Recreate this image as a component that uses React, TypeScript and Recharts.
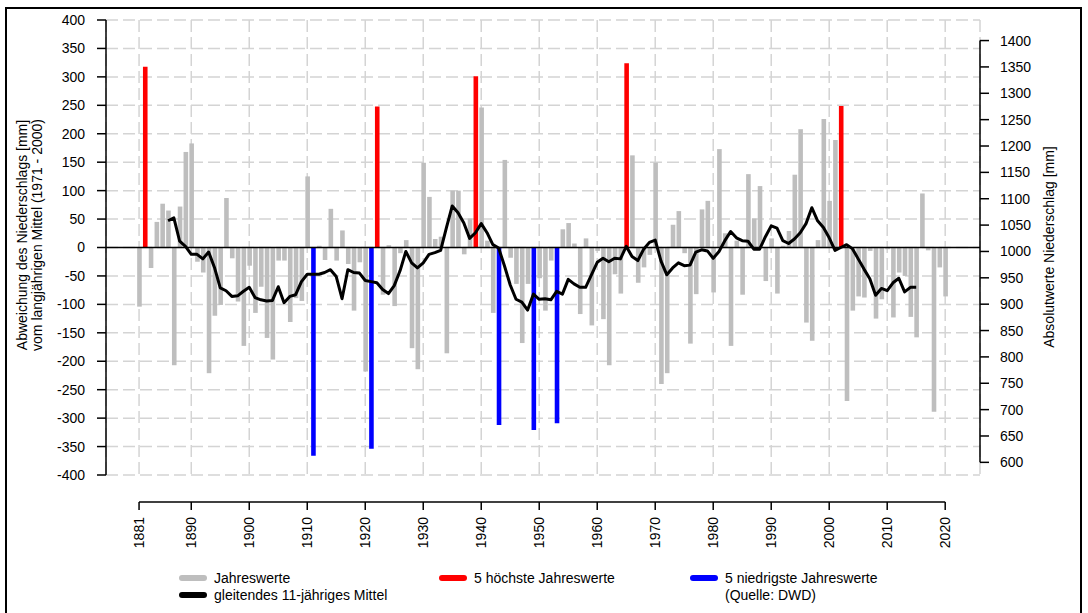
import React from 'react';
import {
  ComposedChart,
  Bar,
  Line,
  Cell,
  XAxis,
  YAxis,
  CartesianGrid,
  ReferenceLine,
  Legend,
} from 'recharts';

const FONT = '"Liberation Sans", Arial, Helvetica, sans-serif';
const GRAY = '#bebebe';
const RED = '#ff0000';
const BLUE = '#0000ff';

const startYear = 1881;

// Abweichung vom Mittel 1971-2000 [mm], 1881 ... 2020
const annualValues: number[] = [
  -104, 318, -36, 45, 77, 65, -207, 72, 168, 183,
  -25, -44, -221, -120, -101, 87, -19, -95, -173, -32,
  -115, -69, -159, -197, -23, -23, -131, -89, -94, 125,
  -366, 3, -22, 68, -23, 30, -29, -111, -26, -218,
  -354, 248, -83, 4, -103, -10, 13, -177, -214, 149,
  89, 15, 19, -186, 100, 100, -12, 51, 301, 246,
  12, -115, -312, 154, -18, -64, -168, -64, -321, -54,
  -111, -23, -309, 32, 43, 7, -117, 16, -137, -6,
  -126, -207, -47, -81, 324, 162, -62, -35, -13, 149,
  -240, -221, 40, 64, -10, -169, -82, 67, 82, -79,
  173, 25, -173, 12, -83, 129, 51, 108, -59, 16,
  -81, 3, 29, 128, 208, -132, -164, 13, 226, 82,
  189, 249, -270, -111, -86, -88, -6, -125, -91, -3,
  -123, -44, -50, -122, -158, 95, -5, -289, -35, -86,
];

// gleitendes 11-jähriges Mittel, 1881 ... 2020 (null where not defined)
const movingMean: (number | null)[] = [
  null, null, null, null, null,
  47, 52, 11, 2, -12, -12, -20, -8, -35, -71,
  -76, -86, -85, -77, -70, -88, -92, -94, -93, -69,
  -97, -86, -83, -60, -47, -47, -47, -44, -39, -51,
  -90, -39, -44, -45, -58, -60, -62, -74, -81, -67,
  -41, -7, -27, -36, -27, -12, -9, -5, 35, 73,
  61, 43, 16, 26, 42, 26, 5, -1, -32, -66,
  -91, -96, -110, -82, -91, -90, -92, -77, -82, -56,
  -64, -70, -70, -48, -26, -19, -25, -19, -20, 2,
  -16, -23, -3, 9, 13, -24, -48, -36, -27, -32,
  -31, -8, -4, -6, -19, -7, 12, 28, 17, 12,
  11, -3, -3, 19, 38, 34, 12, 7, 15, 26,
  42, 70, 47, 35, 17, -5, 0, 5, -2, -20,
  -38, -55, -84, -72, -76, -62, -54, -78, -70, -70,
  null, null, null, null, null,
];

const wettestYears = [1882, 1922, 1939, 1965, 2002];
const driestYears = [1911, 1921, 1943, 1949, 1953];

const xTicks = [1881, 1890, 1900, 1910, 1920, 1930, 1940, 1950, 1960, 1970, 1980, 1990, 2000, 2010, 2020];
const leftTicks = [-400, -350, -300, -250, -200, -150, -100, -50, 0, 50, 100, 150, 200, 250, 300, 350, 400];
const rightTicks = [600, 650, 700, 750, 800, 850, 900, 950, 1000, 1050, 1100, 1150, 1200, 1250, 1300, 1350, 1400];

const data = annualValues.map((v, i) => ({
  year: startYear + i,
  value: v,
  mean: movingMean[i],
}));

const barColor = (year: number) =>
  wettestYears.includes(year) ? RED : driestYears.includes(year) ? BLUE : GRAY;

const legendItems = [
  { label: 'Jahreswerte', color: GRAY, x: 179, row: 0 },
  { label: '5 höchste Jahreswerte', color: RED, x: 439, row: 0 },
  { label: '5 niedrigste Jahreswerte', color: BLUE, x: 690, row: 0 },
  { label: 'gleitendes 11-jähriges Mittel', color: '#000000', x: 179, row: 1 },
  { label: '(Quelle: DWD)', color: null as string | null, x: 690, row: 1 },
];

const XTick = (props: any) => {
  const { x, y, payload } = props;
  const ty = y + 42;
  return (
    <g>
      <line x1={x} x2={x} y1={y + 27} y2={y + 35} stroke="#000" strokeWidth={1.5} />
      <text
        x={x}
        y={ty}
        transform={`rotate(-90, ${x}, ${ty})`}
        textAnchor="end"
        dy="0.35em"
        fontSize={14}
        fill="#000"
        fontFamily={FONT}
      >
        {payload.value}
      </text>
    </g>
  );
};

const LeftTitle = () => (
  <g fontFamily={FONT} fontSize={14} fill="#000">
    <text x={22} y={235} transform="rotate(-90, 22, 235)" textAnchor="middle" dy="0.35em" fill="#000">
      Abweichung des Niederschlags [mm]
    </text>
    <text x={37} y={235} transform="rotate(-90, 37, 235)" textAnchor="middle" dy="0.35em" fill="#000">
      vom langjährigen Mittel (1971 - 2000)
    </text>
  </g>
);

const RightTitle = () => (
  <g fontFamily={FONT} fontSize={14}>
    <text x={1049} y={247} transform="rotate(-90, 1049, 247)" textAnchor="middle" dy="0.35em" fill="#000">
      Absolutwerte Niederschlag [mm]
    </text>
  </g>
);

const LegendContent = () => (
  <svg width={1088} height={40} style={{ display: 'block' }}>
    {legendItems.map((it) => {
      const cy = 12 + it.row * 17;
      return (
        <g key={it.label}>
          {it.color && (
            <line
              x1={it.x + 3}
              x2={it.x + 25}
              y1={cy}
              y2={cy}
              stroke={it.color}
              strokeWidth={6}
              strokeLinecap="round"
            />
          )}
          <text x={it.x + 35} y={cy} dy="0.35em" fontSize={14} fontFamily={FONT} fill="#000">
            {it.label}
          </text>
        </g>
      );
    })}
  </svg>
);

export default function App() {
  return (
    <div style={{ position: 'absolute', left: 0, top: 0, width: 1088, height: 613, background: '#fff', fontFamily: FONT }}>
      <ComposedChart
        width={1088}
        height={613}
        data={data}
        margin={{ top: 20, right: 0, bottom: 38, left: 0 }}
      >
        <CartesianGrid
          yAxisId="left"
          stroke="#d4d4d4"
          strokeWidth={1.5}
          strokeDasharray="12 5"
        />
        <XAxis
          type="number"
          dataKey="year"
          domain={[1875.3, 2026]}
          allowDataOverflow
          ticks={xTicks}
          interval={0}
          height={100}
          axisLine={false}
          tickLine={false}
          tickSize={0}
          tickMargin={0}
          tick={<XTick />}
        />
        <YAxis
          yAxisId="left"
          type="number"
          domain={[-400, 400]}
          allowDataOverflow
          ticks={leftTicks}
          interval={0}
          width={106}
          stroke="#000"
          axisLine={{ stroke: '#000', strokeWidth: 1.5 }}
          tickLine={{ stroke: '#000', strokeWidth: 1.5 }}
          tickSize={9}
          tickMargin={12}
          tick={{ fill: '#000', fontSize: 14, fontFamily: FONT }}
          label={{ content: () => <LeftTitle /> }}
        />
        <YAxis
          yAxisId="right"
          orientation="right"
          type="number"
          domain={[576, 1439]}
          allowDataOverflow
          ticks={rightTicks}
          interval={0}
          width={108}
          stroke="#000"
          axisLine={false}
          tickLine={{ stroke: '#000', strokeWidth: 1.5 }}
          tickSize={9}
          tickMargin={11}
          tick={{ fill: '#000', fontSize: 14, fontFamily: FONT, textAnchor: 'start' }}
          label={{ content: () => <RightTitle /> }}
        />
        <Bar dataKey="value" yAxisId="left" barSize={4.6} isAnimationActive={false}>
          {data.map((d) => (
            <Cell key={d.year} fill={barColor(d.year)} />
          ))}
        </Bar>
        <ReferenceLine yAxisId="left" y={0} stroke="#000" strokeWidth={1.5} ifOverflow="visible" />
        <Line
          dataKey="mean"
          yAxisId="left"
          type="linear"
          stroke="#000"
          strokeWidth={3}
          strokeLinejoin="round"
          dot={false}
          activeDot={false}
          connectNulls={false}
          isAnimationActive={false}
        />
        <ReferenceLine
          yAxisId="left"
          segment={[{ x: 1881, y: -447.5 }, { x: 2020, y: -447.5 }]}
          stroke="#000"
          strokeWidth={1.5}
          ifOverflow="visible"
        />
        <ReferenceLine
          yAxisId="right"
          segment={[{ x: 2026, y: 600 }, { x: 2026, y: 1400 }]}
          stroke="#000"
          strokeWidth={1.5}
          ifOverflow="visible"
        />
        <Legend
          verticalAlign="middle"
          align="center"
          layout="horizontal"
          wrapperStyle={{ top: 566, left: 0, width: 1088, height: 40 }}
          content={() => <LegendContent />}
        />
      </ComposedChart>
      <div
        style={{
          position: 'absolute',
          left: 5,
          top: 7,
          width: 1077,
          height: 640,
          border: '2px solid #000',
          boxSizing: 'border-box',
          pointerEvents: 'none',
        }}
      />
    </div>
  );
}
